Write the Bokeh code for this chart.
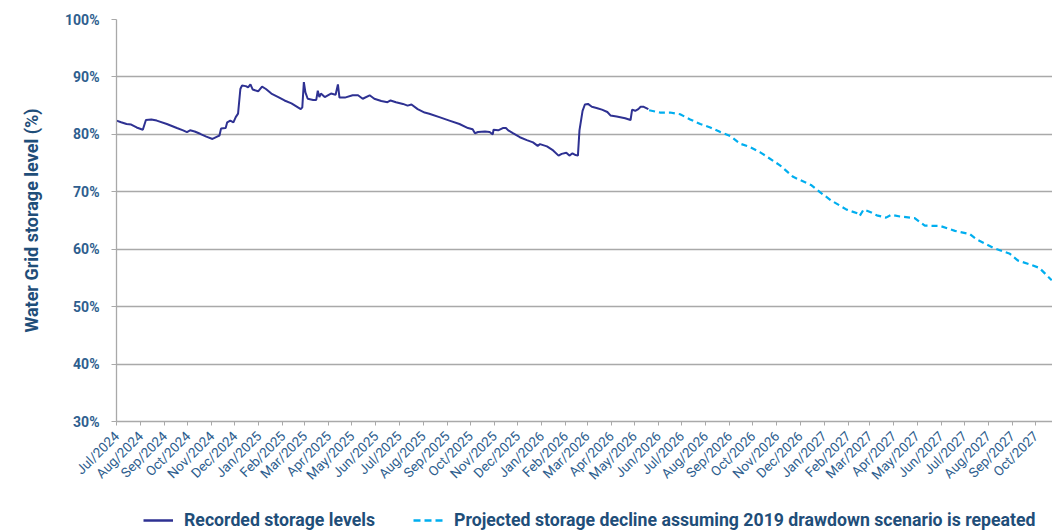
import pandas as pd
from bokeh.plotting import figure
from bokeh.layouts import column
from bokeh.models import (Range1d, FixedTicker, DatetimeTickFormatter, PrintfTickFormatter,
                          Legend, LegendItem, ColumnDataSource)
from bokeh.embed import file_html
from bokeh.resources import INLINE
from math import pi

recorded_dates = [
    "2024-07-01", "2024-07-07", "2024-07-14", "2024-07-20", "2024-07-27", "2024-08-04", "2024-08-08",
    "2024-08-15", "2024-08-22", "2024-09-04", "2024-09-17", "2024-09-25", "2024-09-30", "2024-10-04",
    "2024-10-10", "2024-10-17", "2024-10-25", "2024-11-02", "2024-11-08", "2024-11-11", "2024-11-13",
    "2024-11-19", "2024-11-21", "2024-11-25", "2024-11-29", "2024-12-02", "2024-12-05", "2024-12-08",
    "2024-12-10", "2024-12-15", "2024-12-18", "2024-12-21", "2024-12-24", "2024-12-31", "2025-01-05",
    "2025-01-10", "2025-01-17", "2025-01-26", "2025-02-03", "2025-02-12", "2025-02-24", "2025-02-26",
    "2025-02-28", "2025-03-02", "2025-03-05", "2025-03-12", "2025-03-16", "2025-03-18", "2025-03-20",
    "2025-03-22", "2025-03-27", "2025-03-31", "2025-04-04", "2025-04-10", "2025-04-13", "2025-04-15",
    "2025-04-22", "2025-05-02", "2025-05-09", "2025-05-15", "2025-05-24", "2025-05-30", "2025-06-08",
    "2025-06-16", "2025-06-20", "2025-06-27", "2025-07-06", "2025-07-12", "2025-07-17", "2025-07-25",
    "2025-08-03", "2025-08-09", "2025-08-22", "2025-09-04", "2025-09-17", "2025-09-28", "2025-10-04",
    "2025-10-07", "2025-10-11", "2025-10-20", "2025-10-26", "2025-10-30", "2025-10-31", "2025-11-06",
    "2025-11-12", "2025-11-16", "2025-11-19", "2025-11-25", "2025-12-04", "2025-12-13", "2025-12-21",
    "2025-12-27", "2025-12-30", "2026-01-08", "2026-01-16", "2026-01-23", "2026-01-27", "2026-02-02",
    "2026-02-06", "2026-02-10", "2026-02-14", "2026-02-17", "2026-02-19", "2026-02-23", "2026-02-26",
    "2026-03-02", "2026-03-07", "2026-03-13", "2026-03-20", "2026-03-27", "2026-03-31", "2026-04-08",
    "2026-04-19", "2026-04-26", "2026-04-28", "2026-05-02", "2026-05-06", "2026-05-09", "2026-05-13",
    "2026-05-19",
]
recorded_level = [
    82.4, 82.1, 81.8, 81.7, 81.2, 80.8, 82.5,
    82.6, 82.4, 81.8, 81.1, 80.7, 80.4, 80.7,
    80.5, 80.1, 79.6, 79.2, 79.6, 79.8, 81.0,
    81.1, 82.1, 82.4, 82.1, 83.0, 83.6, 87.9,
    88.5, 88.4, 88.2, 88.7, 87.8, 87.5, 88.3,
    87.9, 87.1, 86.5, 85.9, 85.4, 84.4, 84.7,
    89.1, 87.3, 86.2, 86.0, 86.0, 87.6, 86.5,
    87.1, 86.5, 86.8, 87.1, 86.9, 88.7, 86.4,
    86.4, 86.8, 86.8, 86.2, 86.8, 86.2, 85.8,
    85.6, 85.9, 85.6, 85.3, 85.0, 85.2, 84.4,
    83.8, 83.6, 83.0, 82.4, 81.8, 81.1, 80.9,
    80.2, 80.4, 80.5, 80.4, 80.0, 80.8, 80.7,
    81.1, 81.1, 80.7, 80.2, 79.5, 79.0, 78.6,
    78.0, 78.3, 77.9, 77.2, 76.3, 76.6, 76.8,
    76.3, 76.7, 76.4, 76.3, 80.7, 84.1, 85.2,
    85.3, 84.8, 84.6, 84.3, 83.9, 83.3, 83.1,
    82.8, 82.5, 84.3, 84.1, 84.4, 84.8, 84.8,
    84.4,
]

projected_dates = [
    "2026-05-20", "2026-06-03", "2026-06-16", "2026-06-29", "2026-07-12", "2026-07-25", "2026-08-07",
    "2026-08-20", "2026-09-02", "2026-09-14", "2026-09-27", "2026-10-10", "2026-10-17", "2026-11-05",
    "2026-11-22", "2026-12-15", "2026-12-27", "2027-01-10", "2027-01-30", "2027-02-14", "2027-02-16",
    "2027-02-21", "2027-03-03", "2027-03-10", "2027-03-22", "2027-03-29", "2027-04-09", "2027-04-28",
    "2027-05-11", "2027-05-31", "2027-06-19", "2027-07-08", "2027-07-16", "2027-08-08", "2027-08-29",
    "2027-09-08", "2027-09-25", "2027-10-06", "2027-10-22",
]
projected_level = [
    84.2, 83.8, 83.8, 83.5, 82.6, 81.8, 81.2,
    80.4, 79.7, 78.4, 77.8, 76.9, 76.3, 74.6,
    72.6, 71.2, 69.9, 68.5, 66.9, 66.2, 65.8,
    66.9, 66.4, 65.9, 65.5, 66.0, 65.7, 65.4,
    64.1, 64.05, 63.2, 62.65, 61.8, 60.2, 59.2,
    58.05, 57.3, 56.75, 54.6,
]

series_labels = ["Recorded storage levels",
                 "Projected storage decline assuming 2019 drawdown scenario is repeated"]

y_ticks = [30, 40, 50, 60, 70, 80, 90, 100]
month_ticks = pd.date_range("2024-07-01", "2027-11-01", freq="MS")

x_start = pd.Timestamp("2024-07-01")
x_end = pd.Timestamp("2027-10-23")

REC_COLOR = "#2E3192"
PROJ_COLOR = "#00AEEF"

rec = ColumnDataSource(dict(x=pd.to_datetime(recorded_dates), y=recorded_level))
proj = ColumnDataSource(dict(x=pd.to_datetime(projected_dates), y=projected_level))

p = figure(width=1052, height=495, x_axis_type="datetime",
           x_range=Range1d(x_start, x_end), y_range=Range1d(30, 100),
           output_backend="svg", toolbar_location=None,
           min_border_left=116, min_border_right=0, min_border_top=19, min_border_bottom=74)
p.outline_line_color = None
p.background_fill_color = "white"
p.border_fill_color = "white"

p.line("x", "y", source=rec, line_color=REC_COLOR, line_width=2)
p.line("x", "y", source=proj, line_color=PROJ_COLOR, line_width=2.2, line_dash="6 4")

# grid
p.xgrid.grid_line_color = None
p.ygrid.grid_line_color = "#A9A9A9"
p.ygrid.grid_line_width = 1.3
p.ygrid.ticker = FixedTicker(ticks=y_ticks)

# y axis
p.yaxis.ticker = FixedTicker(ticks=y_ticks)
p.yaxis.formatter = PrintfTickFormatter(format="%d%%")
p.yaxis.axis_line_color = "#A9A9A9"
p.yaxis.axis_line_width = 1.3
p.yaxis.major_tick_line_color = "#A9A9A9"
p.yaxis.major_tick_out = 5
p.yaxis.major_tick_in = 0
p.yaxis.minor_tick_line_color = None
p.yaxis.major_label_text_font = "Roboto"
p.yaxis.major_label_text_font_style = "bold"
p.yaxis.major_label_text_font_size = "14px"
p.yaxis.major_label_text_color = "#2E5E8E"
p.yaxis.major_label_standoff = 12
p.yaxis.axis_label = "Water Grid storage level (%)"
p.yaxis.axis_label_text_font = "Roboto"
p.yaxis.axis_label_text_font_style = "bold"
p.yaxis.axis_label_text_font_size = "18px"
p.yaxis.axis_label_text_color = "#1F4E79"
p.yaxis.axis_label_standoff = 20

# x axis
ticks_ms = [t.value // 10**6 for t in month_ticks]
p.xaxis.ticker = FixedTicker(ticks=ticks_ms)
p.xaxis.formatter = DatetimeTickFormatter(days="%b/%Y", months="%b/%Y", years="%b/%Y")
p.xaxis.major_label_orientation = pi / 4
p.xaxis.axis_line_color = "#A9A9A9"
p.xaxis.axis_line_width = 1.3
p.xaxis.major_tick_line_color = "#A9A9A9"
p.xaxis.major_tick_out = 4
p.xaxis.major_tick_in = 0
p.xaxis.minor_tick_line_color = None
p.xaxis.major_label_text_font = "Roboto"
p.xaxis.major_label_text_font_size = "13.5px"
p.xaxis.major_label_text_color = "#2E5E8E"
p.xaxis.major_label_standoff = 8

# legend strip below the chart (own small figure so it is not clipped by the chart frame);
# its renderers reuse the real sources but its ranges exclude them, so only the legend shows
lg = figure(width=1052, height=36, x_range=Range1d(0, 1), y_range=Range1d(0, 1),
            output_backend="svg", toolbar_location=None,
            min_border_left=0, min_border_right=0, min_border_top=0, min_border_bottom=0)
lg.axis.visible = False
lg.grid.visible = False
lg.outline_line_color = None
l1 = lg.line("x", "y", source=rec, line_color=REC_COLOR, line_width=2.5)
l2 = lg.line("x", "y", source=proj, line_color=PROJ_COLOR, line_width=2.5, line_dash="7 4")

legend = Legend(items=[LegendItem(label=series_labels[0], renderers=[l1]),
                       LegendItem(label=series_labels[1], renderers=[l2])],
                orientation="horizontal", location=(27, 1),
                label_text_font="Roboto", label_text_font_style="bold",
                label_text_font_size="17.7px", label_text_color="#1F4E79",
                glyph_width=30, label_standoff=11, spacing=38,
                border_line_color=None, background_fill_alpha=0,
                padding=0, margin=0)
lg.add_layout(legend, "center")

layout = column(p, lg, spacing=0)
open("out.html", "w").write(file_html(layout, INLINE))
